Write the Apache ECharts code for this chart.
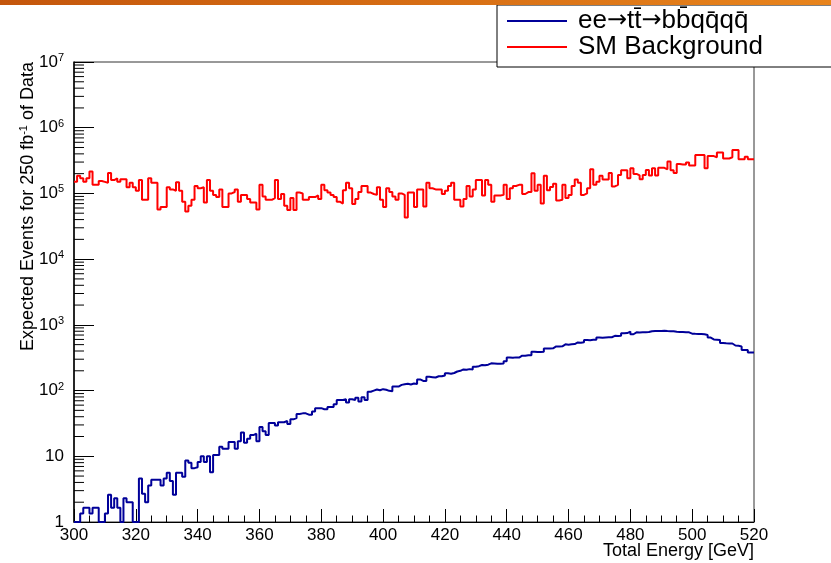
<!DOCTYPE html>
<html>
<head>
<meta charset="utf-8">
<script src="https://cdn.jsdelivr.net/npm/echarts@6.0.0/dist/echarts.min.js"></script>
<style>
  html, body { margin: 0; padding: 0; background: #fff; }
  #chart { width: 831px; height: 563px; }
</style>
</head>
<body>
<div id="chart"></div>
<script>
// histogram binning: 1 GeV bins from 300 to 520
var xMin = 300;
var xMax = 520;
var binWidth = 1;
var xTickStep = 20;

var signalName = 'ee\u2192tt\u0304\u2192bb\u0304qq\u0304qq\u0304';
var backgroundName = 'SM Background';

// ee -> ttbar -> bbqqqq (blue)
var signalCounts = [
  1, 1, 1.35, 1.65, 1.65, 1.35, 1.65, 1.65, 1, 1,
  1.35, 2.6, 1.65, 2.3, 1.65, 1, 2.3, 2.0, 2.0, 1,
  1, 4.6, 2.7, 2.0, 3.6, 4.4, 4.4, 4.4, 3.6, 4.6,
  5.6, 4.2, 2.6, 5.6, 5.6, 4.9, 8.6, 8.0, 6.6, 6.8,
  8.2, 10, 8.2, 10, 5.7, 10.5, 10.5, 14, 13, 13,
  16.5, 16.5, 13, 17, 23, 16, 18.5, 21, 22, 17,
  28, 24, 21, 32, 32, 29.5, 33, 33, 34.5, 31,
  36.5, 38, 44, 45, 45, 43, 43, 48, 54, 54,
  52, 52, 56, 56, 62, 72, 72, 74, 66, 74,
  72, 78, 68, 79, 72, 96, 100, 104, 101, 105,
  103, 99, 98, 115, 115, 122, 125, 127, 124, 128,
  126, 148, 140, 140, 162, 160, 158, 165, 165, 170,
  183, 180, 185, 195, 200, 210, 207, 212, 210, 230,
  235, 245, 242, 248, 260, 258, 255, 255, 258, 280,
  318, 315, 320, 318, 340, 338, 345, 345, 390, 385,
  385, 390, 438, 435, 440, 470, 468, 472, 505, 500,
  508, 510, 540, 535, 545, 590, 585, 592, 595, 640,
  635, 642, 645, 648, 680, 675, 685, 745, 750, 790,
  720, 770, 768, 772, 775, 778, 800, 805, 808, 805,
  810, 805, 802, 800, 785, 780, 780, 775, 770, 735,
  730, 728, 725, 720, 700, 640, 600, 595, 590, 530,
  525, 522, 520, 485, 480, 470, 415, 415, 380, 378
];

// SM background (red)
var backgroundCounts = [
  151000, 185000, 170000, 150000, 170000, 215000, 135000, 135000, 155000, 150000,
  145000, 205000, 160000, 170000, 150000, 165000, 165000, 124000, 145000, 124000,
  110000, 160000, 80000, 80000, 170000, 145000, 145000, 57000, 62000, 62000,
  124000, 115000, 110000, 148000, 110000, 75000, 53000, 65000, 80000, 130000,
  120000, 124000, 73000, 160000, 110000, 95000, 88000, 115000, 62000, 62000,
  100000, 105000, 115000, 75000, 95000, 95000, 82000, 73000, 73000, 57000,
  135000, 90000, 80000, 80000, 85000, 160000, 82000, 98000, 65000, 56000,
  85000, 56000, 103000, 100000, 80000, 80000, 88000, 88000, 93000, 82000,
  135000, 112000, 103000, 95000, 88000, 75000, 70000, 112000, 145000, 120000,
  69000, 82000, 105000, 130000, 130000, 103000, 98000, 95000, 124000, 80000,
  62000, 120000, 105000, 90000, 80000, 100000, 95000, 43000, 103000, 103000,
  62000, 115000, 115000, 63000, 145000, 120000, 115000, 115000, 115000, 98000,
  110000, 130000, 145000, 80000, 80000, 63000, 82000, 130000, 90000, 115000,
  160000, 160000, 93000, 160000, 135000, 75000, 93000, 93000, 95000, 135000,
  82000, 120000, 130000, 135000, 135000, 98000, 105000, 105000, 203000, 110000,
  135000, 70000, 185000, 112000, 125000, 140000, 78000, 80000, 135000, 85000,
  95000, 130000, 163000, 145000, 95000, 100000, 120000, 233000, 135000, 150000,
  185000, 163000, 163000, 205000, 128000, 135000, 190000, 225000, 225000, 170000,
  241000, 198000, 188000, 165000, 190000, 228000, 188000, 241000, 188000, 245000,
  245000, 233000, 305000, 225000, 205000, 280000, 275000, 275000, 295000, 265000,
  265000, 385000, 385000, 385000, 241000, 370000, 370000, 355000, 418000, 418000,
  340000, 340000, 355000, 460000, 460000, 330000, 330000, 360000, 330000, 330000
];

var font = 'Liberation Sans';

// histogram outline: value held across each bin, last bin closed at xMax
function histPoints(counts) {
  var pts = counts.map(function (v, i) { return [xMin + i * binWidth, v]; });
  pts.push([xMax, counts[counts.length - 1]]);
  return pts;
}

// log minor ticks 2..9 of each decade
var minorTickVals = [];
for (var d = 0; d < 7; d++) {
  for (var k = 2; k <= 9; k++) minorTickVals.push([xMin, k * Math.pow(10, d)]);
}

var chart = echarts.init(document.getElementById('chart'));
var option = {
  animation: false,
  backgroundColor: '#fff',
  grid: {
    left: 74, right: 77, top: 62, bottom: 41,
    show: true, borderColor: '#333', borderWidth: 1
  },
  legend: {
    data: [signalName, backgroundName],
    orient: 'vertical',
    left: 497, top: 5,
    backgroundColor: '#fff',
    borderColor: '#000', borderWidth: 1, borderRadius: 0,
    padding: [3, 120, 7, 10],
    itemWidth: 60, itemHeight: 2, itemGap: 0,
    icon: 'rect',
    formatter: function (name) {
      return name.replace(/\u2192/g, '{arr|\u2192}');
    },
    textStyle: {
      fontSize: 26, lineHeight: 26, fontFamily: font, color: '#000', padding: [0, 0, 0, 6],
      rich: { arr: { fontSize: 24, fontFamily: 'DejaVu Sans', color: '#000' } }
    }
  },
  graphic: [
    {
      type: 'rect', left: 0, top: 0, z: 100,
      shape: { width: 831, height: 5 },
      style: {
        fill: new echarts.graphic.LinearGradient(0, 0, 1, 0, [
          { offset: 0, color: '#c4560c' }, { offset: 1, color: '#e8841c' }
        ])
      }
    },
    {
      type: 'text', x: 28, y: 62, rotation: Math.PI / 2,
      style: {
        text: 'Expected Events for 250 fb{sup|-1} of Data',
        fontSize: 18, fontFamily: font, fill: '#000',
        align: 'right', verticalAlign: 'middle',
        rich: { sup: { fontSize: 11, fontFamily: font, padding: [0, 0, 8, 0] } }
      }
    },
    {
      type: 'text', x: 754, y: 551,
      style: {
        text: 'Total Energy [GeV]',
        fontSize: 18, fontFamily: font, fill: '#000',
        align: 'right', verticalAlign: 'middle'
      }
    }
  ],
  xAxis: {
    type: 'value', min: xMin, max: xMax, interval: xTickStep,
    axisLine: { onZero: false, lineStyle: { color: '#000', width: 1 } },
    axisTick: { inside: true, length: 13, lineStyle: { color: '#000' } },
    minorTick: { show: true, splitNumber: 4, length: 6.5, lineStyle: { color: '#000' } },
    splitLine: { show: false },
    axisLabel: { fontSize: 17, fontFamily: font, color: '#000', margin: 5 }
  },
  yAxis: {
    type: 'log', logBase: 10, min: 1, max: 1e7, splitNumber: 7,
    axisLine: { lineStyle: { color: '#000', width: 1.5 } },
    axisTick: { inside: true, length: 20, lineStyle: { color: '#000' } },
    splitLine: { show: false },
    axisLabel: {
      fontSize: 17, fontFamily: font, color: '#000', margin: 10,
      formatter: function (v) {
        var e = Math.round(Math.log10(v));
        if (e === 0) return '1';
        if (e === 1) return '10';
        return '10{sup|' + e + '}';
      },
      rich: { sup: { fontSize: 11, fontFamily: font, padding: [0, 0, 8, 0] } }
    }
  },
  series: [
    {
      name: signalName, type: 'line', step: 'end', symbol: 'none',
      color: '#000099', lineStyle: { width: 2, color: '#000099' },
      data: histPoints(signalCounts), z: 3
    },
    {
      name: backgroundName, type: 'line', step: 'end', symbol: 'none',
      color: '#ff0000', lineStyle: { width: 2, color: '#ff0000' },
      data: histPoints(backgroundCounts), z: 3
    },
    {
      type: 'custom', silent: true, z: 4,
      encode: { x: 0, y: 1 },
      data: minorTickVals,
      renderItem: function (params, api) {
        var p = api.coord([api.value(0), api.value(1)]);
        return {
          type: 'line',
          shape: { x1: p[0], y1: p[1], x2: p[0] + 10, y2: p[1] },
          style: { stroke: '#000', lineWidth: 1 }
        };
      }
    }
  ]
};
chart.setOption(option);
</script>
</body>
</html>
